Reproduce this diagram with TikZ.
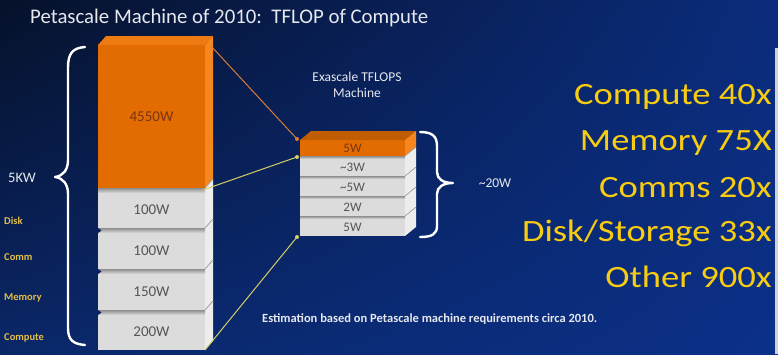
\documentclass[tikz,border=0pt]{standalone}
\usepackage{fontspec}
\setmainfont{Carlito}
\newfontfamily\widefont[FakeStretch=1.18]{Carlito}
\usetikzlibrary{calc,shadings}

\definecolor{bgUL}{HTML}{06112A}
\definecolor{bgUR}{HTML}{0B2C7C}
\definecolor{bgLL}{HTML}{0A2768}
\definecolor{bgLR}{HTML}{0B3088}
\definecolor{notch}{HTML}{0A2262}
\definecolor{orFront}{HTML}{E26C02}
\definecolor{orTop}{HTML}{EE7A12}
\definecolor{orSide}{HTML}{F5871E}
\definecolor{orText}{HTML}{7A3410}
\definecolor{gFront}{HTML}{DCDCDC}
\definecolor{gSide}{HTML}{EDEDED}
\definecolor{gSeam}{HTML}{8E8E8E}
\definecolor{gEdge}{HTML}{9A9A9A}
\definecolor{gText}{HTML}{555555}
\definecolor{lblYellow}{HTML}{E3BE45}
\definecolor{bigYellow}{HTML}{F8CC10}
\definecolor{lineOr}{HTML}{D87A38}
\definecolor{lineYe}{HTML}{D6CE62}
\definecolor{softWhite}{HTML}{E6E8EE}
\definecolor{edgeStrip}{HTML}{CFD2DA}

% one slab of the large stack: name, top y, height, label
\newcommand\bigslab[4]{%
  \node[bfront, fill=gFront, minimum height=#3,
        label={[slabtxt, yshift=-2pt]center:#4}] (#1) at (98,#2) {};
  \fill[gSide] (#1.north east) -- ++(8,-9) -- ($(#1.south east)+(8,-9)$) -- (#1.south east) -- cycle;
  \shade[top color=gSeam, bottom color=gFront] (#1.north west) rectangle ($(#1.north east)+(0,5)$);
  \draw[gEdge, line width=0.7pt] (#1.north east) -- ++(8,-9);
}
% one slab of the small stack: name, top y, label
\newcommand\smallslab[3]{%
  \node[sfront, fill=gFront, minimum height=20,
        label={[smalltxt, yshift=-1pt]center:#3}] (#1) at (300,#2) {};
  \fill[gSide] (#1.north east) -- ++(11,-9) -- ($(#1.south east)+(11,-9)$) -- (#1.south east) -- cycle;
  \shade[top color=gSeam, bottom color=gFront] (#1.north west) rectangle ($(#1.north east)+(0,3)$);
  \draw[gEdge, line width=0.6pt] (#1.north east) -- ++(11,-9);
}

\begin{document}
\begin{tikzpicture}[x=1pt, y=-1pt,
  bfront/.style={rectangle, inner sep=0pt, outer sep=0pt, draw=none,
                 anchor=north west, minimum width=107},
  sfront/.style={rectangle, inner sep=0pt, outer sep=0pt, draw=none,
                 anchor=north west, minimum width=105},
  slabtxt/.style={font=\fontsize{15}{15}\selectfont, text=gText, inner sep=0pt},
  smalltxt/.style={font=\fontsize{13}{13}\selectfont, text=gText, inner sep=0pt},
  sidelbl/.style={font=\bfseries\fontsize{10.5}{10.5}\selectfont, text=lblYellow, anchor=west, inner sep=0pt},
  ratio/.style={font=\widefont\fontsize{31}{31}\selectfont, text=bigYellow, anchor=east, inner sep=0pt},
  brace/.style={draw=white, line width=2.4pt, line cap=round, line join=round},
  link/.style={line width=1pt},
  dot/.style={circle, inner sep=0pt, minimum size=4pt}
]
\useasboundingbox (0,0) rectangle (778,354);
\shade[upper left=bgUL, upper right=bgUR, lower left=bgLL, lower right=bgLR] (0,0) rectangle (778,354);
\fill[edgeStrip] (775,48) rectangle (778,354);

% title
\node[font=\fontsize{20.8}{20.8}\selectfont, text=softWhite, anchor=west, inner sep=0pt] (title) at (30,18)
  {Petascale Machine of 2010:\ \ TFLOP of Compute};

% ---- large stack (2010 machine) ----
\node[bfront, fill=orFront, minimum height=143,
      label={[font=\fontsize{15}{15}\selectfont, text=orText, inner sep=0pt]center:4550W}] (cpu) at (98,45) {};
\fill[orTop] (cpu.north west) -- (cpu.north east) -- ++(8,-9) -- ($(cpu.north west)+(8,-9)$) -- cycle;
\fill[orSide] (cpu.north east) -- ++(8,-9) -- ($(cpu.south east)+(8,-9)$) -- (cpu.south east) -- cycle;

\bigslab{disk}{188}{40}{100W}
\bigslab{comm}{228}{41}{100W}
\bigslab{mem}{269}{41}{150W}
\bigslab{comp}{310}{40}{200W}
\foreach \yy in {228,269,310}
  \fill[notch] (98,\yy) -- (101.5,\yy+2.5) -- (98,\yy+5) -- cycle;

% component labels
\node[sidelbl] (lDisk) at (4,221) {Disk};
\node[sidelbl] (lComm) at (4,257) {Comm};
\node[sidelbl] (lMem)  at (4,298) {Memory};
\node[sidelbl] (lComp) at (4,338) {Compute};

% total power brace
\draw[brace] (85,47) .. controls (72,48) and (68,54) .. (68,68)
  -- (68,160) .. controls (68,170) and (63,176) .. (55,177)
  .. controls (63,178) and (68,184) .. (68,194)
  -- (68,328) .. controls (68,340) and (73,344) .. (85,345);
\node[font=\fontsize{14.5}{14.5}\selectfont, text=softWhite, inner sep=0pt] (total) at (22,178) {5KW};

% ---- small stack (exascale machine) ----
\node[font=\fontsize{13.5}{15.5}\selectfont, text=softWhite, align=center, inner sep=0pt] (xhead) at (357,85)
  {Exascale TFLOPS\\Machine};
\node[sfront, fill=orFront, minimum height=16,
      label={[font=\fontsize{13}{13}\selectfont, text=orText, inner sep=0pt]center:5W}] (xcpu) at (300,140) {};
\fill[orFront!85!black] (xcpu.north west) -- (xcpu.north east) -- ++(11,-9) -- ($(xcpu.north west)+(11,-9)$) -- cycle;
\fill[orSide] (xcpu.north east) -- ++(11,-9) -- ($(xcpu.south east)+(11,-9)$) -- (xcpu.south east) -- cycle;

\smallslab{xdisk}{156}{\textasciitilde3W}
\smallslab{xcomm}{176}{\textasciitilde5W}
\smallslab{xmem}{196}{2W}
\smallslab{xcomp}{216}{5W}

\draw[brace] (420,132) .. controls (432,132) and (437,136) .. (437,146)
  -- (437,172) .. controls (437,179) and (443,183) .. (453,183)
  .. controls (443,183) and (437,187) .. (437,194)
  -- (437,226) .. controls (437,234) and (432,237) .. (420,237);
\node[font=\fontsize{13.5}{13.5}\selectfont, text=softWhite, inner sep=0pt] (xtotal) at (495,183) {\textasciitilde20W};

% ---- connectors between the stacks ----
\coordinate (aCpu) at ($(xcpu.north west)+(-3,-1)$);
\coordinate (aDisk) at ($(xdisk.north west)+(-3,1)$);
\coordinate (aComp) at ($(xcomp.south west)+(-3,1)$);
\draw[link, lineOr] ($(cpu.north east)+(6,1)$) -- (aCpu);
\draw[link, lineYe] ($(disk.north west)!0.98!(disk.north east)+(0,2)$) -- (aDisk);
\draw[link, lineYe] (comp.south east) -- (aComp);
\node[dot, fill=lineOr] at (aCpu) {};
\node[dot, fill=lineYe] at (aDisk) {};
\node[dot, fill=lineYe] at (aComp) {};

% ---- improvement ratios ----
\node[ratio] (rComp) at (772,97)  {Compute 40x};
\node[ratio] (rMem)  at (772,143) {Memory 75X};
\node[ratio] (rComm) at (772,188) {Comms 20x};
\node[ratio] (rDisk) at (772,233) {Disk/Storage 33x};
\node[ratio] (rOth)  at (772,277) {Other 900x};

% footnote
\node[font=\bfseries\fontsize{12.5}{12.5}\selectfont, text=softWhite, anchor=west, inner sep=0pt] (note) at (262,319)
  {Estimation based on Petascale machine requirements circa 2010.};
\end{tikzpicture}
\end{document}
